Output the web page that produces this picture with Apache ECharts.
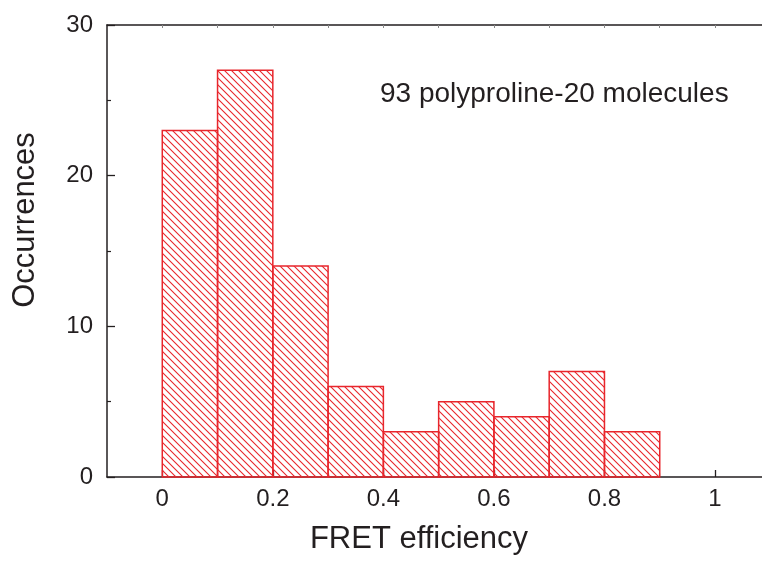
<!DOCTYPE html>
<html>
<head>
<meta charset="utf-8">
<script src="https://cdn.jsdelivr.net/npm/echarts@6/dist/echarts.min.js"></script>
<style>
html,body{margin:0;padding:0;background:#fff;}
#chart{width:762px;height:561px;}
</style>
</head>
<body>
<div id="chart"></div>
<script>
// Histogram bin edges (FRET efficiency) and counts (occurrences)
const binEdges = [0, 0.1, 0.2, 0.3, 0.4, 0.5, 0.6, 0.7, 0.8, 0.9];
const counts = [23, 27, 14, 6, 3, 5, 4, 7, 3];
const xMajorTicks = [0, 0.2, 0.4, 0.6, 0.8, 1];
const xMinorTicks = [0.1, 0.3, 0.5, 0.7, 0.9];
const xTopTicks = [0, 0.1, 0.2, 0.3, 0.4, 0.5, 0.6, 0.7, 0.8, 0.9, 1];
const annotation = '93 polyproline-20 molecules';

const FONT = '"Liberation Sans", Arial, Helvetica, sans-serif';
const TEXT = '#231f20';
const RED = '#e8262c';

// diagonal hatch pattern
const tile = document.createElement('canvas');
tile.width = 7; tile.height = 7;
const ctx = tile.getContext('2d');
ctx.strokeStyle = RED;
ctx.lineWidth = 1.1;
ctx.beginPath();
ctx.moveTo(-1, -1); ctx.lineTo(8, 8);
ctx.moveTo(-8, -1); ctx.lineTo(1, 8);
ctx.moveTo(6, -1); ctx.lineTo(15, 8);
ctx.stroke();

const barData = counts.map((c, i) => [binEdges[i], binEdges[i + 1], c]);

const chart = echarts.init(document.getElementById('chart'), null, {renderer: 'canvas'});
chart.setOption({
  animation: false,
  backgroundColor: '#fff',
  grid: {left: 107, right: 0, top: 25, bottom: 84},
  xAxis: [
    {
      type: 'value', position: 'bottom', min: -0.1, max: 1.085,
      axisLine: {show: true, onZero: false, lineStyle: {color: TEXT, width: 1.5}},
      axisTick: {show: true, inside: true, length: 7, customValues: xMajorTicks, lineStyle: {color: TEXT, width: 1.3}},
      axisLabel: {show: true, customValues: xMajorTicks, fontSize: 24, fontFamily: FONT, color: TEXT, margin: 10,
        formatter: v => String(Math.round(v * 10) / 10)},
      splitLine: {show: false},
      name: 'FRET efficiency', nameLocation: 'middle', nameGap: 47,
      nameTextStyle: {fontSize: 31, fontFamily: FONT, color: TEXT, padding: [0, 31, 0, 0]}
    },
    {
      type: 'value', position: 'bottom', offset: 0, min: -0.1, max: 1.085,
      axisLine: {show: false, onZero: false},
      axisTick: {show: true, inside: true, length: 3.5, customValues: xMinorTicks, lineStyle: {color: TEXT, width: 1.2}},
      axisLabel: {show: false},
      splitLine: {show: false}
    },
    {
      type: 'value', position: 'top', min: -0.1, max: 1.085,
      axisLine: {show: true, onZero: false, lineStyle: {color: TEXT, width: 1.5}},
      axisTick: {show: true, inside: true, length: 3, customValues: xTopTicks, lineStyle: {color: '#888', width: 1}},
      axisLabel: {show: false},
      splitLine: {show: false}
    }
  ],
  yAxis: {
    type: 'value', min: 0, max: 30, interval: 10, position: 'left',
    axisLine: {show: true, onZero: false, lineStyle: {color: TEXT, width: 1.5}},
    axisTick: {show: true, inside: true, length: 8, lineStyle: {color: TEXT, width: 1.3}},
    minorTick: {show: true, splitNumber: 2, length: 4, lineStyle: {color: TEXT, width: 1.2}},
    axisLabel: {fontSize: 24, fontFamily: FONT, color: TEXT, margin: 14},
    splitLine: {show: false},
    name: 'Occurrences', nameLocation: 'middle', nameGap: 66,
    nameTextStyle: {fontSize: 31, fontFamily: FONT, color: TEXT, padding: [0, 0, 0, 62]}
  },
  series: [{
    type: 'custom',
    xAxisIndex: 0,
    data: barData,
    encode: {x: [0, 1], y: 2},
    renderItem: function (params, api) {
      const x0 = api.value(0), x1 = api.value(1), y = api.value(2);
      const p0 = api.coord([x0, y]);
      const p1 = api.coord([x1, 0]);
      return {
        type: 'rect',
        shape: {x: p0[0], y: p0[1], width: p1[0] - p0[0], height: p1[1] - p0[1]},
        style: {fill: {image: tile, repeat: 'repeat'}, stroke: RED, lineWidth: 1.5}
      };
    }
  }],
  graphic: [{
    type: 'text', left: 380, top: 80,
    style: {text: annotation, fontSize: 28, fontFamily: FONT, fill: TEXT}
  }]
});
</script>
</body>
</html>
